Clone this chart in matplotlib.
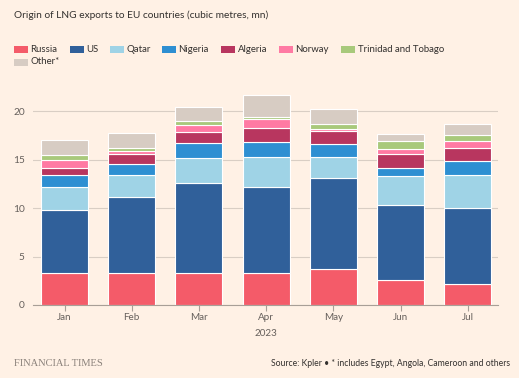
import matplotlib
matplotlib.use("Agg")
import matplotlib.pyplot as plt
from matplotlib.patches import Rectangle
import numpy as np

months = ["Jan", "Feb", "Mar", "Apr", "May", "Jun", "Jul"]
series_names = ["Russia", "US", "Qatar", "Nigeria", "Algeria", "Norway",
                "Trinidad and Tobago", "Other*"]
russia   = [3.27, 3.27, 3.27, 3.27, 3.72, 2.62, 2.17]
us       = [6.51, 7.85, 9.37, 8.92, 9.40, 7.75, 7.89]
qatar    = [2.41, 2.34, 2.55, 3.14, 2.20, 2.96, 3.34]
nigeria  = [1.21, 1.11, 1.55, 1.47, 1.31, 0.82, 1.48]
algeria  = [0.79, 0.99, 1.10, 1.52, 1.31, 1.48, 1.37]
norway   = [0.75, 0.38, 0.76, 0.86, 0.28, 0.52, 0.73]
trinidad = [0.56, 0.28, 0.37, 0.27, 0.51, 0.82, 0.62]
other    = [1.55, 1.58, 1.45, 2.25, 1.48, 0.68, 1.06]
yticks = [0, 5, 10, 15, 20]

colors = ["#f45b69", "#30609a", "#9fd3e6", "#2e8fd2", "#b8365f",
          "#ff7aa3", "#a8c97b", "#d7ccc3"]

bg = "#fff1e5"
W, H = 519, 378
fig = plt.figure(figsize=(W/100, H/100), dpi=100, facecolor=bg)
plt.rcParams['font.family'] = ['Lato', 'DejaVu Sans']

def px(x, y):
    return x / W, 1 - y / H

# axes: left 33, right 498, y0 at 305, ylim 0..22
top_y = 305 - 22 * 9.68
ax = fig.add_axes([33/W, 1 - 305/H, (498-33)/W, (305-top_y)/H])
ax.set_facecolor(bg)
x = np.arange(len(months))
data = [russia, us, qatar, nigeria, algeria, norway, trinidad, other]
bottom = np.zeros(len(months))
for vals, c in zip(data, colors):
    ax.bar(x, vals, width=0.7, bottom=bottom, color=c, edgecolor="white",
           linewidth=0.8, zorder=3)
    bottom += np.array(vals)

ax.set_ylim(0, 22)
ax.set_xlim(-0.47, 6.45)
ax.set_yticks(yticks)
ax.set_yticklabels([str(v) for v in yticks], fontsize=7.3, color="#66605c")
ax.yaxis.grid(True, color="#d9cec4", linewidth=0.8, zorder=0)
ax.tick_params(axis="y", length=0, pad=6)
ax.set_xticks(x)
ax.set_xticklabels(months, fontsize=7.1, color="#66605c")
ax.tick_params(axis="x", length=4, color="#a89f97", pad=2)
for s in ["top", "right", "left"]:
    ax.spines[s].set_visible(False)
ax.spines["bottom"].set_color("#a89f97")
ax.spines["bottom"].set_linewidth(0.8)
ax.spines["bottom"].set_zorder(4)

fig.text(*px(266, 333), "2023", fontsize=7.1, color="#66605c", ha="center", va="center")

# title
fig.text(*px(14, 15), "Origin of LNG exports to EU countries (cubic metres, mn)",
         fontsize=7.3, color="#33302e", ha="left", va="center")

# legend
leg_pos = [(14, 49), (70, 49), (110, 49), (162, 49), (221, 49), (279, 49), (341, 49), (14, 62)]
for (lx, ly), name, c in zip(leg_pos, series_names, colors):
    fx, fy = px(lx, ly + 3.5)
    fig.patches.append(Rectangle((fx, fy), 14/W, 7/H, transform=fig.transFigure,
                                 facecolor=c, edgecolor="none"))
    fig.text(*px(lx + 16.5, ly), name, fontsize=6.9, color="#33302e", ha="left", va="center")

fig.text(*px(14, 363), "FINANCIAL TIMES", fontsize=7.5, color="#8a817a",
         family=["Liberation Serif", "DejaVu Serif"], ha="left", va="center")
fig.text(*px(510, 364), "Source: Kpler \u2022 * includes Egypt, Angola, Cameroon and others",
         fontsize=6.2, color="#33302e", ha="right", va="center")

fig.savefig("out.png", dpi=100, facecolor=bg)
